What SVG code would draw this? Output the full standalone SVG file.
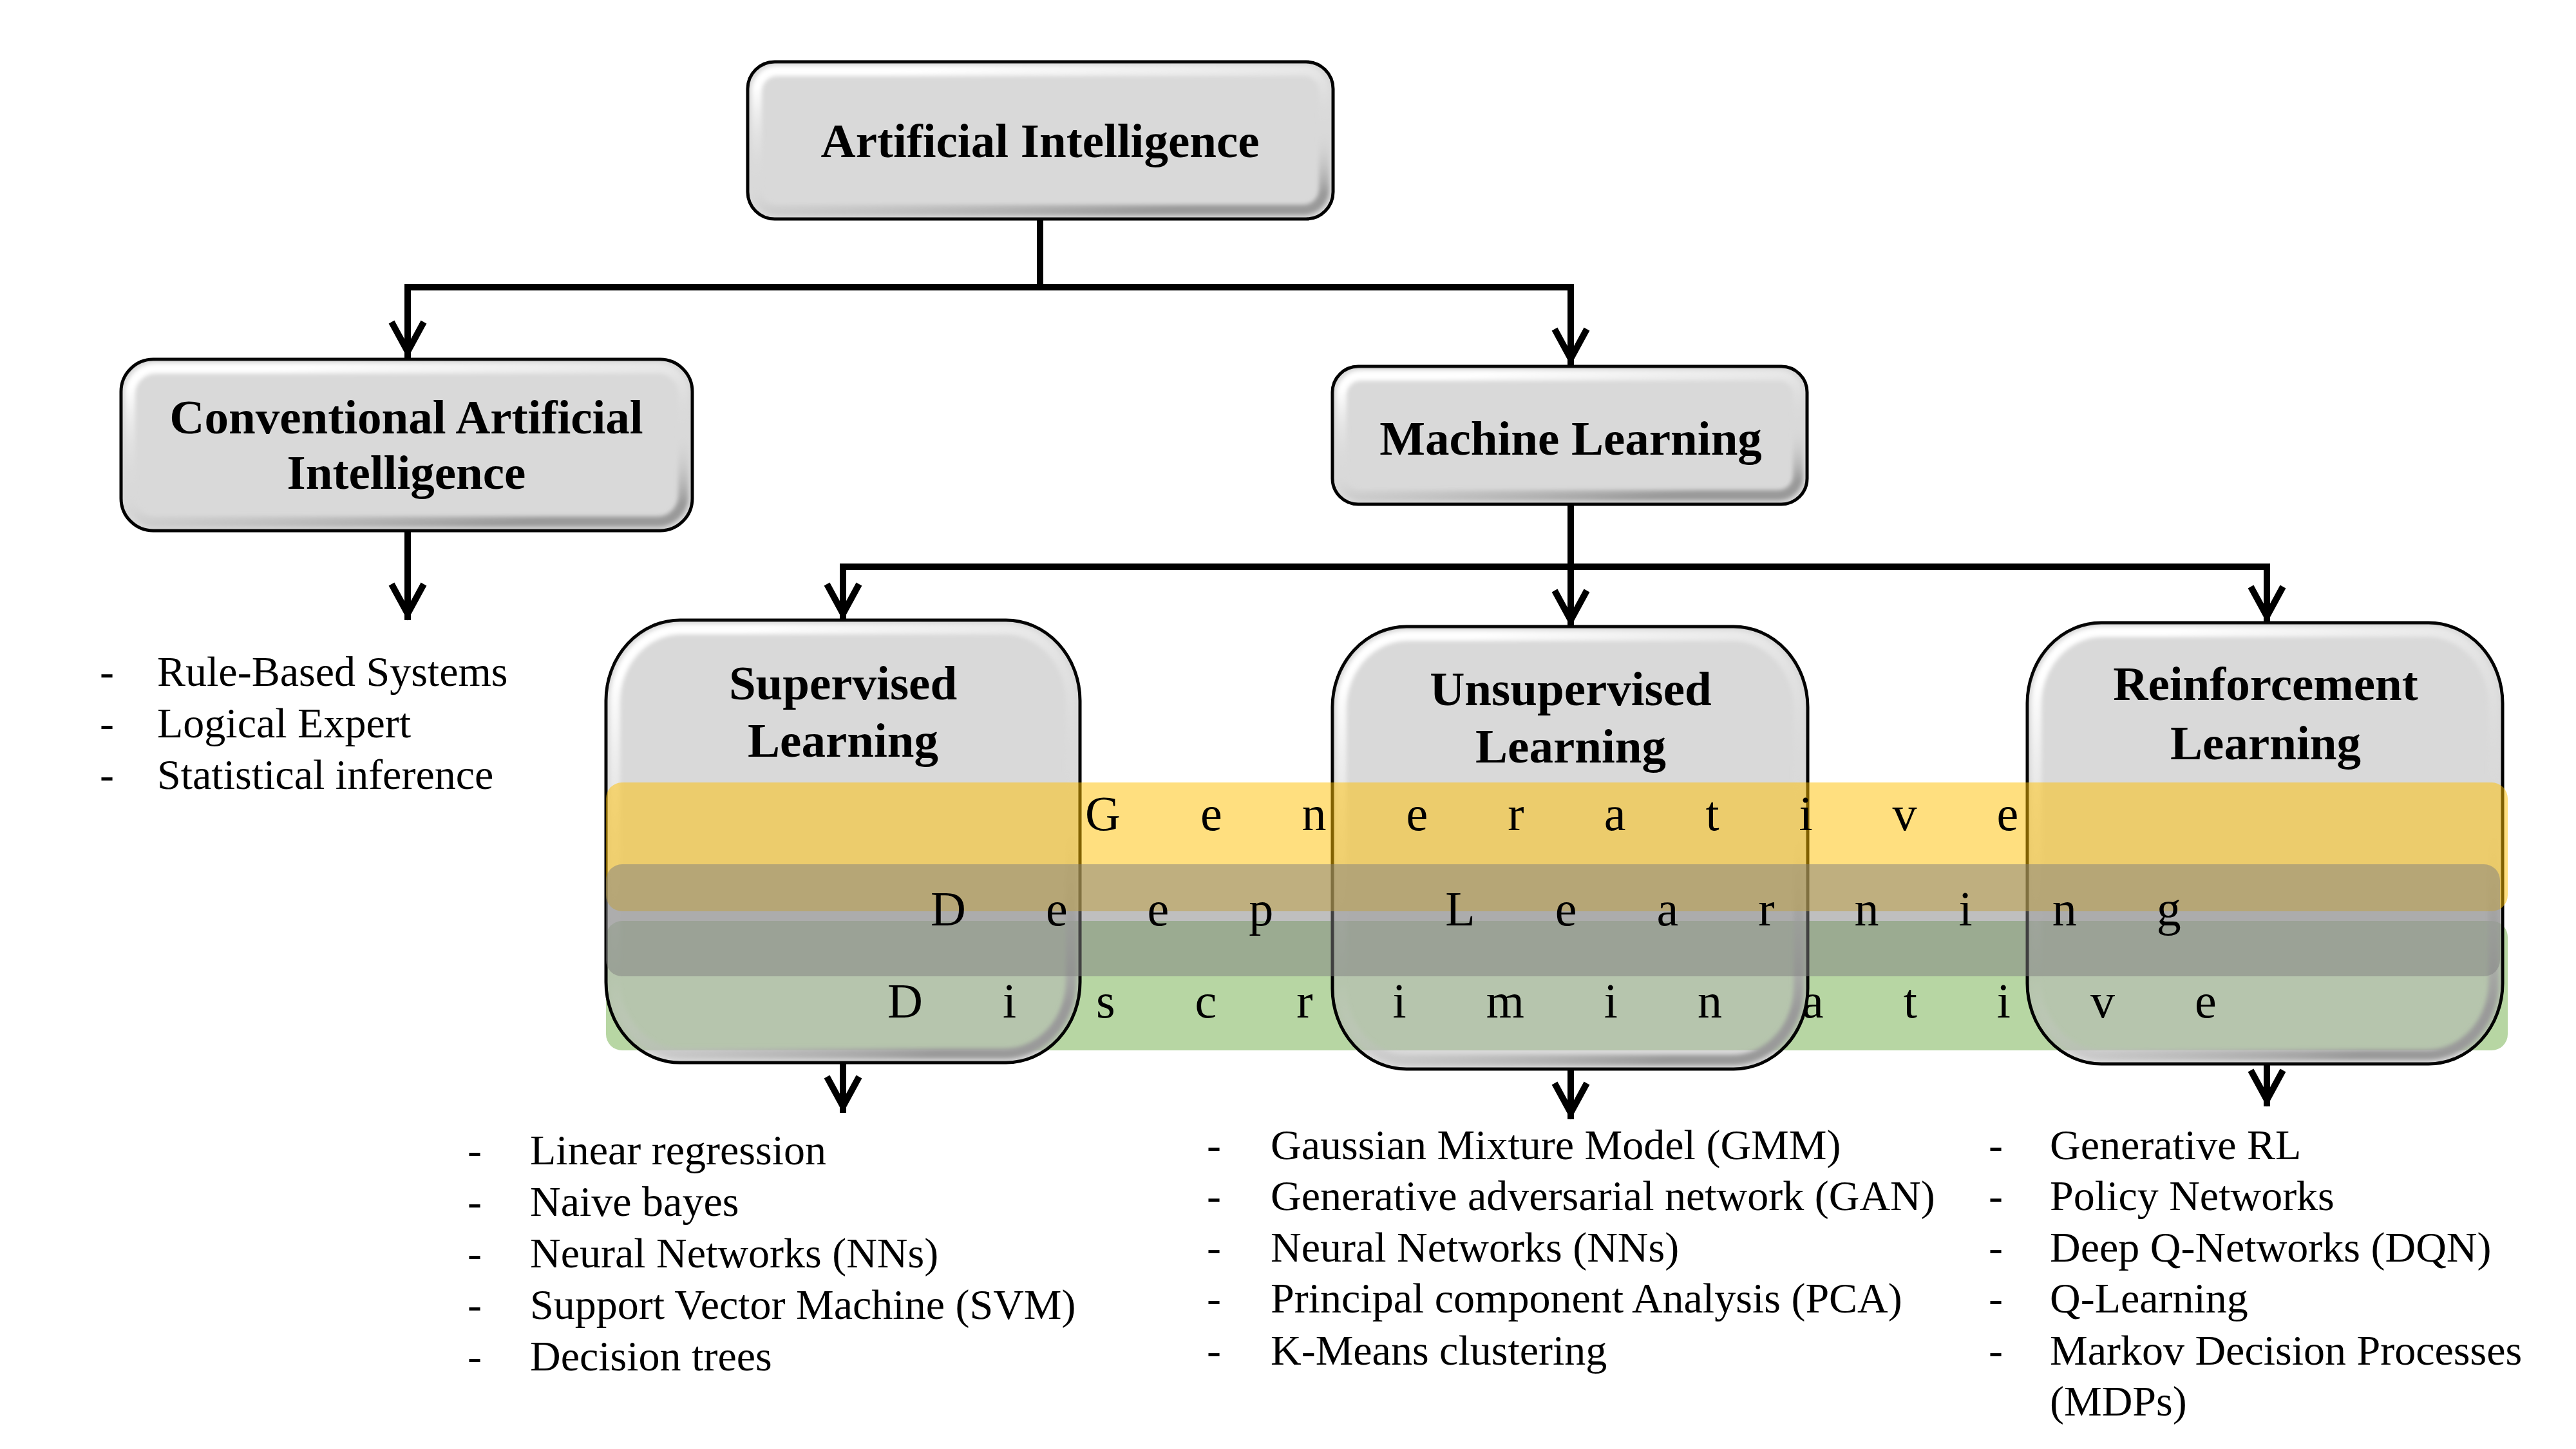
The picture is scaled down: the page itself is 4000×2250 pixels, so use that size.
<svg xmlns="http://www.w3.org/2000/svg" width="4000" height="2250" viewBox="0 0 4000 2250">
<defs>
<style>
.box{fill:#D9D9D9;stroke:#000;stroke-width:5}
.tbox{fill:#B6B6B6;fill-opacity:0.52;stroke:#000;stroke-width:5}
.bev{fill:none;stroke:url(#bev);stroke-width:16;filter:url(#soft)}
.title{font-family:"Liberation Serif","Times New Roman",serif;font-weight:bold;font-size:75px;text-anchor:middle;fill:#000}
.item{font-family:"Liberation Serif","Times New Roman",serif;font-size:66px;fill:#000}
.bandtxt{font-family:"Liberation Serif","Times New Roman",serif;font-size:76px;letter-spacing:124px;fill:#000}
.conn{fill:none;stroke:#000;stroke-width:10}
.arr{marker-end:url(#arrow)}
</style>
<linearGradient id="bev" x1="0.3" y1="0" x2="0.7" y2="1">
<stop offset="0" stop-color="#ffffff"/>
<stop offset="0.25" stop-color="#eeeeee" stop-opacity="0.6"/>
<stop offset="0.6" stop-color="#D9D9D9" stop-opacity="0"/>
<stop offset="1" stop-color="#9a9a9a"/>
</linearGradient>
<filter id="soft" x="-10%" y="-10%" width="120%" height="120%">
<feGaussianBlur stdDeviation="3"/>
</filter>
<marker id="arrow" markerUnits="userSpaceOnUse" viewBox="-70 -40 80 80" markerWidth="80" markerHeight="80" refX="0" refY="0" orient="auto" overflow="visible">
<path d="M -56 -25 L -10 0 L -56 25" fill="none" stroke="#000" stroke-width="10" stroke-linejoin="miter" stroke-miterlimit="10"/>
</marker>
</defs>
<rect width="4000" height="2250" fill="#ffffff"/>

<g id="connectors">
<path class="conn" d="M1615 340 V446"/>
<path class="conn" d="M628 446 H2444"/>
<path class="conn arr" d="M633 446 V556"/>
<path class="conn arr" d="M2439 446 V567"/>
<path class="conn arr" d="M633 825 V963"/>
<path class="conn arr" d="M2439 783 V973"/>
<path class="conn" d="M1304 880 H3525"/>
<path class="conn arr" d="M1309 880 V963"/>
<path class="conn arr" d="M3520 880 V967"/>
<path class="conn arr" d="M1309 1650 V1728"/>
<path class="conn arr" d="M2439 1660 V1738"/>
<path class="conn arr" d="M3520 1652 V1718"/>
</g>

<g id="node-ai">
<rect class="box" x="1161" y="96" width="909" height="244" rx="42" ry="42"/>
<rect class="bev" x="1175" y="110" width="881" height="216" rx="32" ry="32"/>
<text class="title" x="1615" y="244">Artificial Intelligence</text>
</g>

<g id="node-cai">
<rect class="box" x="188" y="558" width="887" height="266" rx="50" ry="50"/>
<rect class="bev" x="202" y="572" width="859" height="238" rx="40" ry="40"/>
<text class="title" x="631" y="673">Conventional Artificial</text>
<text class="title" x="631" y="759">Intelligence</text>
</g>

<g id="node-ml">
<rect class="box" x="2069" y="569" width="737" height="214" rx="40" ry="40"/>
<rect class="bev" x="2083" y="583" width="709" height="186" rx="30" ry="30"/>
<text class="title" x="2439" y="706">Machine Learning</text>
</g>

<g id="band-discriminative">
<rect x="941" y="1430" width="2953" height="201" rx="25" ry="25" fill="#70AD47" fill-opacity="0.5"/>
</g>

<g id="node-supervised">
<rect class="tbox" x="941" y="963" width="736" height="687" rx="115" ry="125"/>
<rect class="bev" x="955" y="977" width="708" height="659" rx="103" ry="113"/>
<text class="title" x="1309" y="1086">Supervised</text>
<text class="title" x="1309" y="1175">Learning</text>
</g>

<g id="node-unsupervised">
<rect class="tbox" x="2069" y="973" width="738" height="687" rx="115" ry="125"/>
<rect class="bev" x="2083" y="987" width="710" height="659" rx="103" ry="113"/>
<text class="title" x="2439" y="1095">Unsupervised</text>
<text class="title" x="2439" y="1184">Learning</text>
</g>

<g id="node-reinforcement">
<rect class="tbox" x="3148" y="967" width="738" height="685" rx="115" ry="125"/>
<rect class="bev" x="3162" y="981" width="710" height="657" rx="103" ry="113"/>
<text class="title" x="3518" y="1087">Reinforcement</text>
<text class="title" x="3518" y="1179">Learning</text>
</g>

<g id="band-generative">
<rect x="941" y="1215" width="2953" height="200" rx="25" ry="25" fill="#FFC000" fill-opacity="0.5"/>
</g>
<g id="band-deep">
<rect x="941" y="1342" width="2941" height="174" rx="25" ry="25" fill="#7F7F7F" fill-opacity="0.5"/>
</g>

<g id="band-labels">
<text class="bandtxt" x="1685" y="1289">Generative</text>
<text class="bandtxt" x="1445" y="1437">Deep Learning</text>
<text class="bandtxt" x="1378" y="1580">Discriminative</text>
</g>

<g id="list-cai">
<text class="item" x="155" y="1065">-</text><text class="item" x="244" y="1065">Rule-Based Systems</text>
<text class="item" x="155" y="1145">-</text><text class="item" x="244" y="1145">Logical Expert</text>
<text class="item" x="155" y="1225">-</text><text class="item" x="244" y="1225">Statistical inference</text>
</g>

<g id="list-supervised">
<text class="item" x="726" y="1808">-</text><text class="item" x="823" y="1808">Linear regression</text>
<text class="item" x="726" y="1888">-</text><text class="item" x="823" y="1888">Naive bayes</text>
<text class="item" x="726" y="1968">-</text><text class="item" x="823" y="1968">Neural Networks (NNs)</text>
<text class="item" x="726" y="2048">-</text><text class="item" x="823" y="2048">Support Vector Machine (SVM)</text>
<text class="item" x="726" y="2128">-</text><text class="item" x="823" y="2128">Decision trees</text>
</g>

<g id="list-unsupervised">
<text class="item" x="1874" y="1800">-</text><text class="item" x="1973" y="1800">Gaussian Mixture Model (GMM)</text>
<text class="item" x="1874" y="1879">-</text><text class="item" x="1973" y="1879">Generative adversarial network (GAN)</text>
<text class="item" x="1874" y="1959">-</text><text class="item" x="1973" y="1959">Neural Networks (NNs)</text>
<text class="item" x="1874" y="2038">-</text><text class="item" x="1973" y="2038">Principal component Analysis (PCA)</text>
<text class="item" x="1874" y="2119">-</text><text class="item" x="1973" y="2119">K-Means clustering</text>
</g>

<g id="list-reinforcement">
<text class="item" x="3088" y="1800">-</text><text class="item" x="3183" y="1800">Generative RL</text>
<text class="item" x="3088" y="1879">-</text><text class="item" x="3183" y="1879">Policy Networks</text>
<text class="item" x="3088" y="1959">-</text><text class="item" x="3183" y="1959">Deep Q-Networks (DQN)</text>
<text class="item" x="3088" y="2038">-</text><text class="item" x="3183" y="2038">Q-Learning</text>
<text class="item" x="3088" y="2119">-</text><text class="item" x="3183" y="2119">Markov Decision Processes</text>
<text class="item" x="3183" y="2198">(MDPs)</text>
</g>
</svg>
